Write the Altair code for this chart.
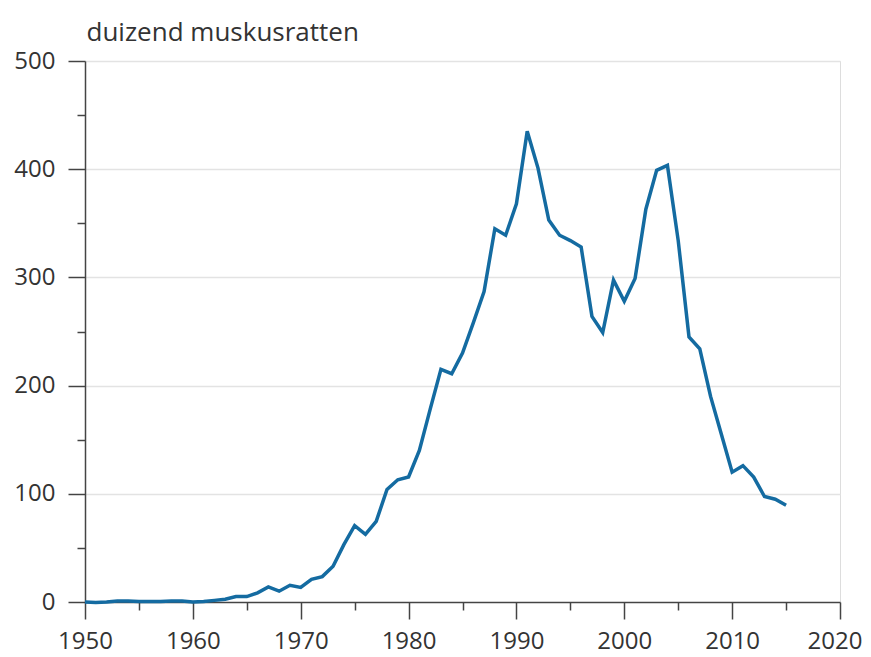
import altair as alt
import pandas as pd

years = list(range(1950, 2016))
values = [
    0, -0.5, 0, 1, 1, 0.5, 0.5, 0.5, 1, 1,          # 1950-1959
    0, 0.5, 1.5, 2.5, 5, 5, 8.5, 14, 10, 15.5,      # 1960-1969
    13.5, 21, 23.5, 33, 53, 70.5, 62.5, 74.5, 104, 113,  # 1970-1979
    115.5, 140, 178, 215, 211, 230, 258, 287, 345, 339,  # 1980-1989
    368, 435, 401, 353, 339, 334, 328, 264, 249, 297.5,  # 1990-1999
    278, 299, 363, 399, 403.5, 334, 245, 234, 190, 155,  # 2000-2009
    120, 126, 115.5, 97.5, 95, 89.5,                     # 2010-2015
]

x_ticks = list(range(1950, 2021, 5))
y_ticks = list(range(0, 501, 50))

df = pd.DataFrame({"jaar": years, "aantal": values})

FONT = "Open Sans"

chart = (
    alt.Chart(df)
    .mark_line(color="#146ba1", strokeWidth=3.5, strokeJoin="miter", strokeCap="butt")
    .encode(
        x=alt.X(
            "jaar:Q",
            scale=alt.Scale(domain=[1950, 2020], nice=False, zero=False),
            axis=alt.Axis(
                values=x_ticks,
                labelExpr="datum.value % 10 === 0 ? datum.value : ''",
                tickSize={"condition": {"test": "datum.value % 10 === 0", "value": 17}, "value": 8},
                labelAlign={"condition": {"test": "datum.value === 2020", "value": "right"}, "value": "center"},
                labelOffset={"condition": {"test": "datum.value === 2020", "value": 22}, "value": 0},
                labelPadding=10,
                grid=False,
                title=None,
                labelFont=FONT,
                labelFontSize=24,
                labelColor="#333333",
                domainColor="#444444",
                tickColor="#444444",
                domainWidth=1.5,
                tickWidth=1.5,
                labelFlush=False,
                labelOverlap=False,
            ),
        ),
        y=alt.Y(
            "aantal:Q",
            scale=alt.Scale(domain=[0, 500], nice=False),
            axis=alt.Axis(
                values=y_ticks,
                labelExpr="datum.value % 100 === 0 ? datum.value : ''",
                tickSize={"condition": {"test": "datum.value % 100 === 0", "value": 17}, "value": 8},
                labelPadding=13,
                grid=True,
                gridColor={"condition": {"test": "datum.value % 100 === 0 && datum.value > 0", "value": "#e3e3e3"}, "value": "transparent"},
                gridWidth=1.5,
                title="duizend muskusratten",
                titleAngle=0,
                titleAlign="left",
                titleBaseline="alphabetic",
                titleX=1,
                titleY=-21,
                titleFont=FONT,
                titleFontSize=26,
                titleFontWeight="normal",
                titleColor="#333333",
                labelFont=FONT,
                labelFontSize=24,
                labelColor="#333333",
                domainColor="#444444",
                tickColor="#444444",
                domainWidth=1.5,
                tickWidth=1.5,
                labelFlush=False,
                labelOverlap=False,
            ),
        ),
    )
    .properties(
        width=755,
        height=541,
        autosize=alt.AutoSizeParams(type="none"),
        padding={"left": 77, "top": 53, "right": 23, "bottom": 55},
    )
    .configure_view(stroke=None)
    .configure(background="white")
)

chart.save("out.html", embed_options={"renderer": "svg", "actions": False})
